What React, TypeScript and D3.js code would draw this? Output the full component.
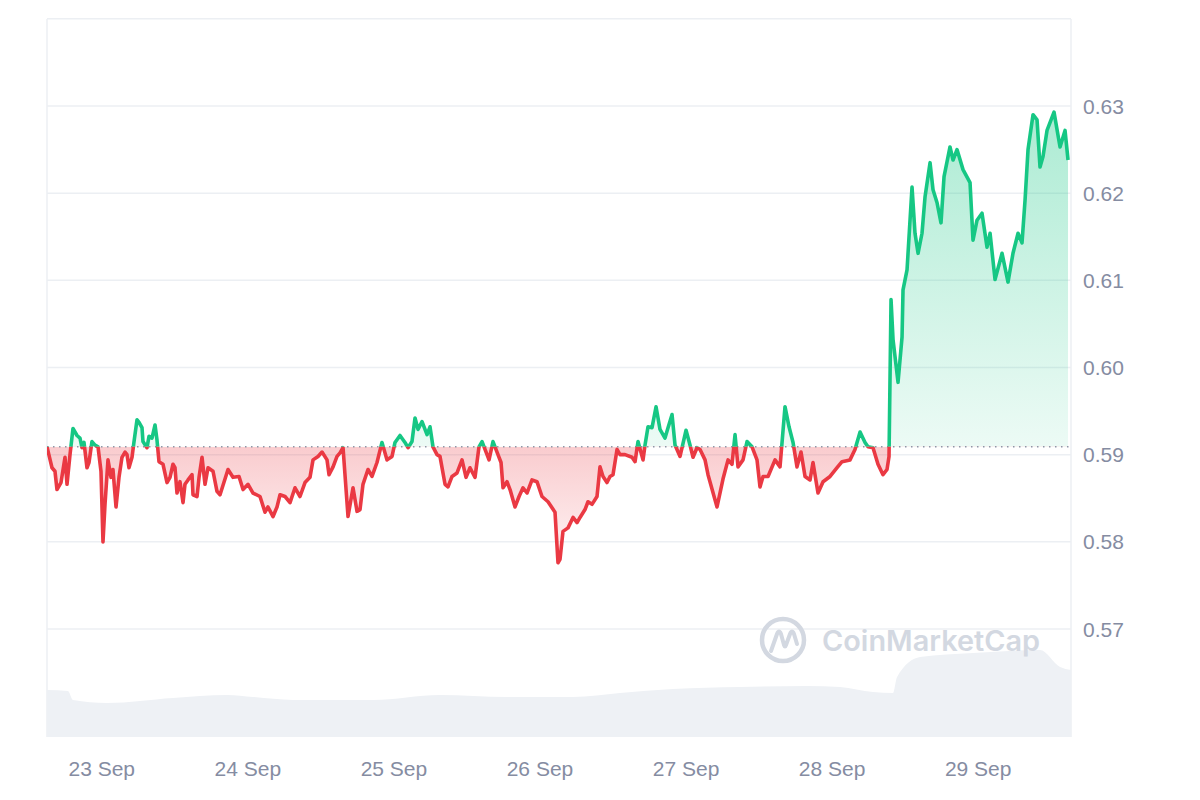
import React from "react";
import * as d3 from "d3";

// Time origin: 22 Sep 2023 15:00 UTC; series positions are in hours from it
const START = Date.UTC(2023, 8, 22, 15, 0);
const END_HOURS = 168.25;

const priceHours = [
  0, 0.82, 1.31, 1.64, 2.3, 2.96, 3.29, 3.78, 4.27, 4.93, 5.42, 5.75, 6.08, 6.57, 6.9, 7.39, 7.89, 8.38, 8.87, 9.2,
  9.53, 10.02, 10.52, 10.84, 11.34, 11.83, 12.32, 12.82, 13.15, 13.47, 13.97, 14.3, 14.79, 15.12, 15.61, 15.77, 16.43, 16.76, 17.25, 17.75,
  18.07, 18.4, 19.06, 19.72, 20.21, 20.7, 21.03, 21.36, 21.85, 22.35, 22.67, 23.17, 23.83, 23.99, 24.65, 24.98, 25.47, 25.96, 26.46, 27.28,
  27.93, 28.43, 29.74, 30.56, 31.55, 32.21, 33.03, 33.85, 35.0, 35.82, 36.31, 37.14, 37.79, 38.29, 39.11, 39.93, 40.75, 41.57, 42.39, 43.21,
  43.71, 44.53, 45.19, 46.01, 46.34, 47.0, 47.65, 48.15, 48.64, 49.46, 50.28, 50.94, 51.43, 51.92, 52.74, 53.4, 54.22, 55.04, 55.87, 56.69,
  57.18, 58.0, 58.82, 59.32, 59.97, 60.47, 60.96, 61.62, 62.44, 62.93, 63.42, 64.08, 64.57, 65.4, 65.89, 66.55, 67.37, 68.19, 68.85, 69.5,
  70.33, 70.98, 71.48, 72.3, 72.63, 73.28, 73.94, 74.6, 74.93, 75.58, 76.08, 76.9, 77.56, 78.21, 78.87, 79.69, 80.51, 81.33, 82.32, 82.98,
  83.47, 83.96, 84.29, 84.78, 85.61, 86.43, 87.09, 87.58, 88.4, 88.89, 89.55, 90.37, 90.86, 91.36, 92.01, 92.51, 93.0, 93.66, 94.15, 94.97,
  96.12, 96.62, 97.11, 97.93, 98.26, 98.75, 99.41, 100.07, 100.72, 101.54, 102.04, 102.7, 103.19, 104.01, 105.0, 105.65, 106.15, 106.8, 107.3, 108.12,
  108.61, 110.09, 111.07, 111.9, 112.55, 113.05, 113.54, 114.36, 115.02, 115.84, 116.66, 117.15, 117.65, 118.47, 119.62, 120.44, 121.26, 121.92, 122.58, 123.23,
  123.89, 124.55, 125.37, 125.86, 126.68, 127.51, 128.66, 129.81, 130.63, 131.94, 132.76, 133.59, 134.41, 134.9, 135.72, 136.54, 137.36, 138.02, 138.35, 138.68,
  139.01, 139.83, 140.49, 140.65, 141.31, 142.13, 142.62, 143.12, 143.77, 144.27, 145.09, 145.58, 146.24, 146.89, 147.39, 148.37, 148.87, 149.52, 150.51, 151.66,
  152.15, 152.81, 153.63, 154.45, 154.95, 155.77, 156.92, 157.9, 158.72, 159.55, 160.2, 160.7, 161.19, 162.01, 162.67, 163.16, 163.65, 164.31, 165.46, 166.45,
  167.27, 167.76,
];

const prices = [
  0.5909, 0.5885, 0.5881, 0.586, 0.5868, 0.5897, 0.5866, 0.59, 0.593, 0.5922, 0.5919, 0.5908, 0.5914, 0.5885, 0.5891, 0.5915, 0.5911, 0.5909, 0.5881, 0.58,
  0.5843, 0.5894, 0.5874, 0.5883, 0.584, 0.5874, 0.5897, 0.5903, 0.59, 0.5885, 0.5897, 0.5915, 0.594, 0.5937, 0.5931, 0.5915, 0.5908, 0.5921, 0.5919, 0.5934,
  0.5917, 0.5892, 0.5889, 0.5868, 0.5874, 0.5889, 0.5885, 0.5856, 0.5869, 0.5845, 0.5866, 0.5871, 0.5877, 0.5854, 0.5852, 0.5874, 0.5897, 0.5866, 0.5885, 0.5881,
  0.5858, 0.5854, 0.5883, 0.5874, 0.5875, 0.586, 0.5866, 0.5856, 0.5852, 0.5834, 0.584, 0.5829, 0.584, 0.5854, 0.5852, 0.5845, 0.5862, 0.5852, 0.5868, 0.5874,
  0.5894, 0.5898, 0.5903, 0.5894, 0.5877, 0.5886, 0.5898, 0.5902, 0.5908, 0.5829, 0.5862, 0.5835, 0.5837, 0.5866, 0.5883, 0.5875, 0.5891, 0.5914, 0.5894, 0.5898,
  0.5914, 0.5922, 0.5914, 0.5908, 0.5915, 0.5942, 0.5929, 0.5938, 0.5923, 0.5932, 0.5909, 0.59, 0.5898, 0.5866, 0.5863, 0.5875, 0.5879, 0.5894, 0.5874, 0.5885,
  0.5874, 0.5909, 0.5915, 0.59, 0.5894, 0.5915, 0.5903, 0.5891, 0.5862, 0.5869, 0.586, 0.584, 0.5852, 0.5862, 0.5856, 0.5871, 0.5869, 0.5852, 0.5846, 0.5839,
  0.5834, 0.5776, 0.578, 0.5812, 0.5816, 0.5828, 0.5822, 0.5828, 0.5837, 0.5846, 0.5843, 0.5852, 0.5886, 0.5875, 0.5868, 0.5875, 0.5877, 0.5906, 0.59, 0.59,
  0.5897, 0.5892, 0.5915, 0.5894, 0.5911, 0.5932, 0.5931, 0.5955, 0.5929, 0.5919, 0.5931, 0.5946, 0.5911, 0.5898, 0.5928, 0.5911, 0.5897, 0.5908, 0.5906, 0.5894,
  0.5877, 0.584, 0.5872, 0.5894, 0.5889, 0.5923, 0.5886, 0.5894, 0.5915, 0.5909, 0.5894, 0.5863, 0.5875, 0.5875, 0.5894, 0.5886, 0.5955, 0.5932, 0.5914, 0.5886,
  0.5903, 0.5875, 0.5871, 0.5891, 0.5856, 0.5869, 0.5875, 0.5885, 0.5892, 0.5894, 0.5906, 0.5926, 0.5914, 0.5909, 0.5908, 0.5889, 0.5877, 0.5883, 0.5898, 0.6078,
  0.6032, 0.5983, 0.6035, 0.6089, 0.6112, 0.6207, 0.6154, 0.6131, 0.6154, 0.6196, 0.6235, 0.6204, 0.6189, 0.6166, 0.6219, 0.6253, 0.6238, 0.625, 0.6227, 0.6212,
  0.6146, 0.6169, 0.6177, 0.6138, 0.6154, 0.6101, 0.6131, 0.6098, 0.6131, 0.6154, 0.6143, 0.6192, 0.625, 0.629, 0.6284, 0.623, 0.6242, 0.6272, 0.6293, 0.6253,
  0.6272, 0.6238,
];

const volumeHours = [
  0, 3.45, 4.27, 9.86, 20.7, 29.58, 33.85, 40.42, 53.57, 64.57, 75.58, 86.43, 94.15, 102.86, 113.87, 124.88, 130.3, 135.72, 139.01,
  139.67, 143.45, 152.15, 163.16, 166.45, 168.25,
];
// 24h volume, millions USD (relative)
const volumes = [
  47, 46, 37, 34, 39, 42, 40, 37, 37, 42, 40, 40, 44, 48, 50, 51, 50, 45, 44, 60, 80, 84, 87, 70, 67,
];

const yTicks = [0.57, 0.58, 0.59, 0.6, 0.61, 0.62, 0.63];
const yTopGrid = 0.64;

const GREEN = "#16c784";
const RED = "#ea3943";
const GRID = "#eceff3";
const LABEL = "#858ca2";
const FONT = "'Liberation Sans', Arial, Helvetica, sans-serif";

export default function App() {
  const W = 1200;
  const H = 800;
  const left = 47;
  const right = 1071;
  const top = 19;
  const bottom = 737;

  const toDate = (h: number) => new Date(START + h * 3600e3);
  const x = d3.scaleUtc().domain([toDate(0), toDate(END_HOURS)]).range([left, right]);
  const y = d3.scaleLinear().domain([0.57, 0.63]).range([629, 106]);
  const vy = d3.scaleLinear().domain([0, 100]).range([bottom, bottom - 100]);

  const pts = priceHours.map((h, i) => ({ t: toDate(h), p: prices[i] }));
  const vpts = volumeHours.map((h, i) => ({ t: toDate(h), v: volumes[i] }));
  const base = prices[0];
  const yb = y(base);

  const line = d3
    .line<{ t: Date; p: number }>()
    .x((d) => x(d.t))
    .y((d) => y(d.p));
  const area = d3
    .area<{ t: Date; p: number }>()
    .x((d) => x(d.t))
    .y0(yb)
    .y1((d) => y(d.p));
  const vArea = d3
    .area<{ t: Date; v: number }>()
    .x((d) => x(d.t))
    .y0(bottom)
    .y1((d) => vy(d.v))
    .curve(d3.curveMonotoneX);

  const dayTicks = d3.utcDay.range(toDate(0), toDate(END_HOURS));
  const fmt = d3.utcFormat("%-d %b");

  const linePath = line(pts) || "";
  const areaPath = area(pts) || "";

  return (
    <svg width={W} height={H} style={{ position: "absolute", left: 0, top: 0, background: "#fff" }}>
      <defs>
        <clipPath id="clipUp">
          <rect x={left} y={0} width={right - left} height={yb} />
        </clipPath>
        <clipPath id="clipDown">
          <rect x={left} y={yb} width={right - left} height={bottom - yb} />
        </clipPath>
        <linearGradient id="gUp" gradientUnits="userSpaceOnUse" x1={0} x2={0} y1={y(0.63)} y2={yb}>
          <stop offset="0" stopColor={GREEN} stopOpacity={0.36} />
          <stop offset="1" stopColor={GREEN} stopOpacity={0.08} />
        </linearGradient>
        <linearGradient id="gDown" gradientUnits="userSpaceOnUse" x1={0} x2={0} y1={yb} y2={y(0.577)}>
          <stop offset="0" stopColor={RED} stopOpacity={0.26} />
          <stop offset="1" stopColor={RED} stopOpacity={0.05} />
        </linearGradient>
      </defs>

      {/* grid */}
      {[...yTicks, yTopGrid].map((t) => (
        <line key={t} x1={left} x2={right} y1={y(t)} y2={y(t)} stroke={GRID} strokeWidth={1.5} />
      ))}
      <line x1={left} x2={left} y1={top} y2={bottom} stroke={GRID} strokeWidth={1.5} />
      <line x1={right} x2={right} y1={top} y2={bottom} stroke={GRID} strokeWidth={1.5} />

      {/* volume */}
      <path d={vArea(vpts) || ""} fill="#eef1f5" />

      {/* watermark */}
      <g>
        <circle cx={783} cy={640} r={21} fill="none" stroke="#d3d8e1" strokeWidth={4.5} />
        <path
          d="M771,651 L777,634 Q779,629 781,634 L784,645 Q785,648 786,645 L790,634 Q792,629 794,634 L797,644"
          fill="none"
          stroke="#d3d8e1"
          strokeWidth={4}
          strokeLinecap="round"
          strokeLinejoin="round"
        />
        <text
          x={822}
          y={651}
          fontFamily="Inter, 'Noto Sans', sans-serif"
          fontWeight={600}
          fontSize={28}
          fill="#d3d8e1"
          textLength={218}
          lengthAdjust="spacingAndGlyphs"
        >
          CoinMarketCap
        </text>
      </g>

      {/* price fills */}
      <path d={areaPath} fill="url(#gUp)" clipPath="url(#clipUp)" />
      <path d={areaPath} fill="url(#gDown)" clipPath="url(#clipDown)" />

      {/* baseline */}
      <line
        x1={left}
        x2={right}
        y1={yb}
        y2={yb}
        stroke="#8f96a7"
        strokeWidth={1.5}
        strokeDasharray="1.5 4.5"
      />

      {/* price line */}
      <path d={linePath} fill="none" stroke={GREEN} strokeWidth={3.6} strokeLinejoin="round" clipPath="url(#clipUp)" />
      <path d={linePath} fill="none" stroke={RED} strokeWidth={3.6} strokeLinejoin="round" clipPath="url(#clipDown)" />

      {/* y axis labels */}
      {yTicks.map((t) => (
        <text key={t} x={1083} y={y(t)} dy="0.36em" fontFamily={FONT} fontSize={21} fill={LABEL}>
          {t.toFixed(2)}
        </text>
      ))}

      {/* x axis labels */}
      {dayTicks.map((d) => (
        <text key={+d} x={x(d)} y={776} textAnchor="middle" fontFamily={FONT} fontSize={21} fill={LABEL}>
          {fmt(d)}
        </text>
      ))}
    </svg>
  );
}
